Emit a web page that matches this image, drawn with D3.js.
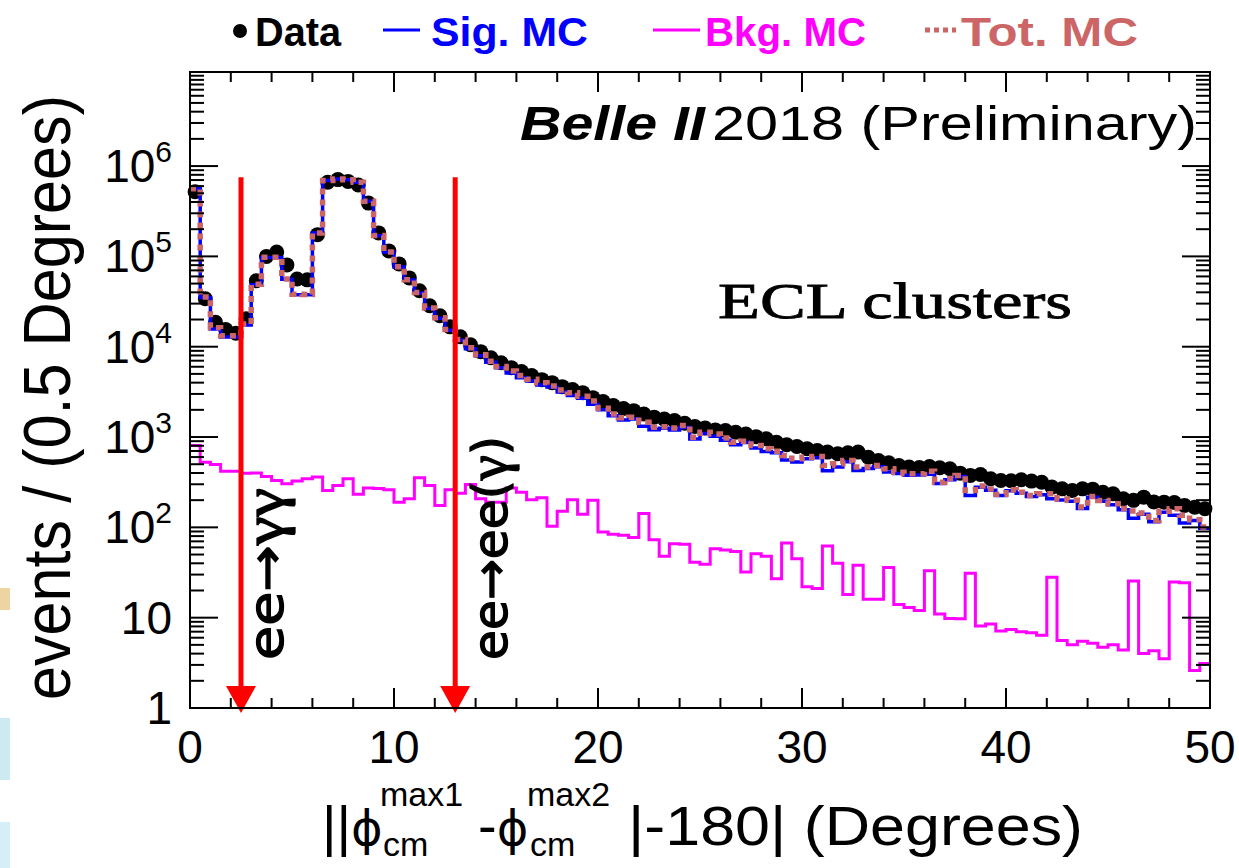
<!DOCTYPE html>
<html>
<head>
<meta charset="utf-8">
<script src="https://cdn.jsdelivr.net/npm/d3@7"></script>
<style>
body { margin: 0; background: #fff; }
svg { display: block; }
</style>
</head>
<body>
<div id="chart"></div>
<script>
/** Histogram contents, 100 bins of 0.5 degrees from 0 to 50. */
const BIN_WIDTH = 0.5;

const dataCounts = [
    520000, 34000, 18600, 15500, 14100, 20400, 53700, 100000, 112000, 80500,
    56200, 55000, 174000, 661000, 708000, 676000, 617000, 389000, 182000, 115000,
    82600, 57800, 41600, 28400, 22000, 16600, 12900, 10500, 8810, 7550,
    6650, 5860, 5300, 4790, 4320, 4000, 3610, 3350, 3100, 2730,
    2470, 2230, 2070, 1960, 1800, 1660, 1580, 1520, 1420, 1310,
    1260, 1200, 1180, 1130, 1080, 1010, 955, 877, 820, 785,
    741, 710, 681, 652, 668, 681, 598, 550, 519, 484,
    465, 460, 472, 457, 445, 398, 376, 385, 345, 330,
    328, 337, 325, 316, 279, 267, 256, 267, 265, 245,
    235, 207, 199, 216, 191, 190, 188, 175, 167, 161
];

const sigMC = [
    561000, 35000, 15700, 12800, 12800, 17400, 48600, 97300, 97300, 55900,
    37700, 37600, 181600, 690000, 720000, 705000, 660000, 406700, 169700, 111700,
    76500, 54800, 39400, 26600, 20700, 15200, 11760, 9470, 7920, 6730,
    5840, 5100, 4545, 4170, 3770, 3570, 3160, 2890, 2680, 2310,
    2000, 1716, 1548, 1583, 1318, 1207, 1252, 1194, 1275, 954,
    1091, 1022, 921, 823, 868, 754, 693, 670, 558, 529,
    576, 589, 422, 466, 532, 427, 449, 468, 409, 394,
    378, 379, 386, 305, 337, 366, 225, 278, 258, 225,
    254, 238, 219, 229, 207, 201, 194, 162, 215, 194,
    178, 157, 126, 140, 115, 147, 136, 112, 119, 98
];

const bkgMC = [
    805, 527, 497, 419, 419, 398, 400, 366, 331, 304,
    325, 345, 360, 256, 291, 345, 232, 272, 269, 261,
    190, 207, 354, 291, 175, 261, 239, 299, 207, 190,
    190, 272, 245, 202, 213, 103, 151, 202, 140, 200,
    89, 84, 82, 77, 142, 73, 48, 66, 65, 41,
    39, 58, 56, 54, 32, 51, 48, 27, 67, 45,
    22, 21, 62, 40, 18, 38, 16, 16, 36, 14,
    13, 12, 33, 11, 9.8, 9.7, 31, 8.1, 8.5, 7.1,
    7.4, 7.0, 6.8, 6.4, 28, 5.6, 5.0, 5.5, 5.2, 4.7,
    5.0, 4.4, 25.5, 4.0, 4.3, 3.5, 24.9, 24.3, 2.6, 3.1
];

// Selection cuts drawn as arrows; labels split so gamma can use a serif face.
const cutValues = [2.5, 13];
const cutLabels = [["ee\u2192", "\u03b3\u03b3", ""], ["ee\u2192ee(", "\u03b3", ")"]];
const ARROW_TOP = 7.5e5;

const xTicks = [0, 10, 20, 30, 40, 50];
const yDecades = [0, 1, 2, 3, 4, 5, 6];

const legendItems = ["Data", "Sig. MC", "Bkg. MC", "Tot. MC"];

/** Layout. */
const WIDTH = 1239;
const HEIGHT = 868;
const FRAME = {left: 190, right: 1210, top: 72, bottom: 708};
const SANS = "'Liberation Sans', Arial, sans-serif";

const COLORS = {data: "#000", sig: "#0000ff", bkg: "#ff00ff", tot: "#cc6666", cut: "#ff0000"};

const x = d3.scaleLinear()
    .domain([0, 50])
    .range([FRAME.left, FRAME.right]);
const y = d3.scaleLog()
    .domain([1, 1.1e7])
    .range([FRAME.bottom, FRAME.top]);

const totMC = sigMC.map((v, i) => v + bkgMC[i]);

const svg = d3.select("#chart").append("svg")
    .attr("width", WIDTH)
    .attr("height", HEIGHT)
    .attr("font-family", SANS);

// Bits of the slide background showing at the left edge.
svg.append("rect").attr("x", 0).attr("y", 588).attr("width", 10).attr("height", 22)
    .attr("fill", "#e8c98a").attr("opacity", 0.8);
svg.append("rect").attr("x", 0).attr("y", 718).attr("width", 10).attr("height", 62)
    .attr("fill", "#cde9f2");
svg.append("rect").attr("x", 0).attr("y", 822).attr("width", 10).attr("height", 46)
    .attr("fill", "#d6eef5");

/** Histograms. */
function stepPoints(values) {
    const pts = [];
    values.forEach((v, i) => {
        pts.push([i * BIN_WIDTH, v], [(i + 1) * BIN_WIDTH, v]);
    });
    return pts;
}

const stepLine = d3.line()
    .x((d) => x(d[0]))
    .y((d) => y(d[1]));

const plot = svg.append("g");

plot.append("path")
    .attr("d", stepLine(stepPoints(bkgMC)))
    .attr("fill", "none")
    .attr("stroke", COLORS.bkg)
    .attr("stroke-width", 3);

plot.selectAll("circle.data")
    .data(dataCounts)
    .join("circle")
    .attr("class", "data")
    .attr("cx", (d, i) => x((i + 0.5) * BIN_WIDTH))
    .attr("cy", (d) => y(d))
    .attr("r", 7.5)
    .attr("fill", COLORS.data);

plot.append("path")
    .attr("d", stepLine(stepPoints(sigMC)))
    .attr("fill", "none")
    .attr("stroke", COLORS.sig)
    .attr("stroke-width", 3.5);

plot.append("path")
    .attr("d", stepLine(stepPoints(totMC)))
    .attr("fill", "none")
    .attr("stroke", COLORS.tot)
    .attr("stroke-width", 5.5)
    .attr("stroke-dasharray", "6,5");

/** Cut arrows and their labels. */
const cuts = svg.append("g");
cutValues.forEach((c, i) => {
    const cx = x(c);
    cuts.append("line")
        .attr("x1", cx).attr("x2", cx)
        .attr("y1", y(ARROW_TOP)).attr("y2", y(1) - 20)
        .attr("stroke", COLORS.cut)
        .attr("stroke-width", 5);
    cuts.append("path")
        .attr("d", `M${cx - 15},${y(1) - 22}L${cx + 15},${y(1) - 22}L${cx},${y(1) + 5}Z`)
        .attr("fill", COLORS.cut);
    const lx = cx + (i === 0 ? 42 : 52);
    const t = cuts.append("text")
        .attr("transform", `translate(${lx},${y(1) - 48}) rotate(-90)`)
        .attr("font-family", "'DejaVu Sans', sans-serif")
        .attr("font-size", 48)
        .attr("textLength", i === 0 ? 172 : 224)
        .attr("lengthAdjust", "spacingAndGlyphs")
        .attr("fill", "#000")
        .attr("stroke", "#000")
        .attr("stroke-width", 1.3);
    const [a, g, b] = cutLabels[i];
    t.append("tspan").text(a);
    t.append("tspan")
        .attr("font-family", "'Liberation Serif', serif")
        .attr("font-size", 56)
        .text(g);
    if (b) t.append("tspan").text(b);
});

/** Frame and axes. */
const axes = svg.append("g")
    .attr("stroke", "#000")
    .attr("stroke-width", 2);

axes.append("rect")
    .attr("x", FRAME.left).attr("y", FRAME.top)
    .attr("width", FRAME.right - FRAME.left)
    .attr("height", FRAME.bottom - FRAME.top)
    .attr("fill", "none");

// x ticks: major every 10, minor every 2, on bottom and top.
const xMinor = d3.range(0, 50.01, 2).filter((v) => v % 10 !== 0);
[[xTicks, 20], [xMinor, 10]].forEach(([vals, len]) => {
    vals.forEach((v) => {
        axes.append("line")
            .attr("x1", x(v)).attr("x2", x(v))
            .attr("y1", FRAME.bottom).attr("y2", FRAME.bottom - len);
        axes.append("line")
            .attr("x1", x(v)).attr("x2", x(v))
            .attr("y1", FRAME.top).attr("y2", FRAME.top + len);
    });
});

// y ticks: decades long, 2..9 short, both sides.
const yMinor = [];
yDecades.forEach((e) => {
    for (let k = 2; k <= 9; k++) yMinor.push(k * Math.pow(10, e));
});
yMinor.push(1e7);
const yMajor = yDecades.map((e) => Math.pow(10, e));
[[yMajor, 28], [yMinor, 14]].forEach(([vals, len]) => {
    vals.forEach((v) => {
        axes.append("line")
            .attr("x1", FRAME.left).attr("x2", FRAME.left + len)
            .attr("y1", y(v)).attr("y2", y(v));
        axes.append("line")
            .attr("x1", FRAME.right).attr("x2", FRAME.right - len)
            .attr("y1", y(v)).attr("y2", y(v));
    });
});

// Tick labels.
svg.append("g").selectAll("text")
    .data(xTicks)
    .join("text")
    .attr("x", (d) => x(d))
    .attr("y", 763)
    .attr("text-anchor", "middle")
    .attr("font-size", 46)
    .text((d) => d);

const yLab = svg.append("g").selectAll("text")
    .data(yDecades)
    .join("text")
    .attr("x", 172)
    .attr("y", (e) => y(Math.pow(10, e)) + 16)
    .attr("text-anchor", "end")
    .attr("font-size", 46);
yLab.each(function(e) {
    const t = d3.select(this);
    if (e === 0) {
        t.text("1");
    } else if (e === 1) {
        t.text("10");
    } else {
        t.append("tspan").text("10");
        t.append("tspan").attr("dy", -20).attr("font-size", 30).text(e);
    }
});

// Axis titles.
svg.append("text")
    .attr("transform", "translate(70,700) rotate(-90)")
    .attr("font-size", 66)
    .attr("textLength", 605)
    .attr("lengthAdjust", "spacingAndGlyphs")
    .text("events / (0.5 Degrees)");

const xTitle = svg.append("g").attr("font-size", 56);
const phiPart = (px, lead) => {
    const t = xTitle.append("text").attr("x", px).attr("y", 845);
    t.append("tspan").text(lead);
    t.append("tspan")
        .attr("font-family", "'DejaVu Sans', sans-serif")
        .attr("font-size", 48)
        .text("\u03d5");
};
phiPart(322, "||");
xTitle.append("text").attr("x", 380).attr("y", 806).attr("font-size", 34).text("max1");
xTitle.append("text").attr("x", 383).attr("y", 856).attr("font-size", 34).text("cm");
phiPart(478, "-");
xTitle.append("text").attr("x", 527).attr("y", 806).attr("font-size", 34).text("max2");
xTitle.append("text").attr("x", 530).attr("y", 856).attr("font-size", 34).text("cm");
xTitle.append("text").attr("x", 628).attr("y", 845)
    .attr("textLength", 455)
    .attr("lengthAdjust", "spacingAndGlyphs")
    .text("|-180| (Degrees)");

/** Labels inside the frame. */
svg.append("text")
    .attr("x", 520).attr("y", 140)
    .attr("font-size", 49)
    .attr("font-weight", "bold")
    .attr("font-style", "italic")
    .attr("textLength", 185)
    .attr("lengthAdjust", "spacingAndGlyphs")
    .text("Belle II");
svg.append("text")
    .attr("x", 712).attr("y", 140)
    .attr("font-size", 49)
    .attr("textLength", 485)
    .attr("lengthAdjust", "spacingAndGlyphs")
    .text("2018 (Preliminary)");

svg.append("text")
    .attr("x", 718).attr("y", 318)
    .attr("font-family", "'Liberation Serif', 'DejaVu Serif', serif")
    .attr("font-size", 50)
    .attr("stroke", "#000")
    .attr("stroke-width", 0.8)
    .attr("textLength", 354)
    .attr("lengthAdjust", "spacingAndGlyphs")
    .text("ECL clusters");

/** Legend across the top. */
const legend = svg.append("g").attr("font-weight", "bold").attr("font-size", 41);
const legendText = (tx, txt, color, len) => legend.append("text")
    .attr("x", tx).attr("y", 46)
    .attr("fill", color)
    .attr("textLength", len)
    .attr("lengthAdjust", "spacingAndGlyphs")
    .text(txt);
legend.append("circle").attr("cx", 240).attr("cy", 31).attr("r", 7).attr("fill", COLORS.data);
legendText(255, legendItems[0], COLORS.data, 86);
legend.append("line").attr("x1", 383).attr("x2", 420).attr("y1", 30).attr("y2", 30)
    .attr("stroke", COLORS.sig).attr("stroke-width", 3);
legendText(431, legendItems[1], COLORS.sig, 157);
legend.append("line").attr("x1", 653).attr("x2", 700).attr("y1", 30).attr("y2", 30)
    .attr("stroke", COLORS.bkg).attr("stroke-width", 3);
legendText(705, legendItems[2], COLORS.bkg, 161);
legend.append("line").attr("x1", 925).attr("x2", 956).attr("y1", 30).attr("y2", 30)
    .attr("stroke", COLORS.tot).attr("stroke-width", 5).attr("stroke-dasharray", "5,4");
legendText(961, legendItems[3], COLORS.tot, 177);
</script>
</body>
</html>
